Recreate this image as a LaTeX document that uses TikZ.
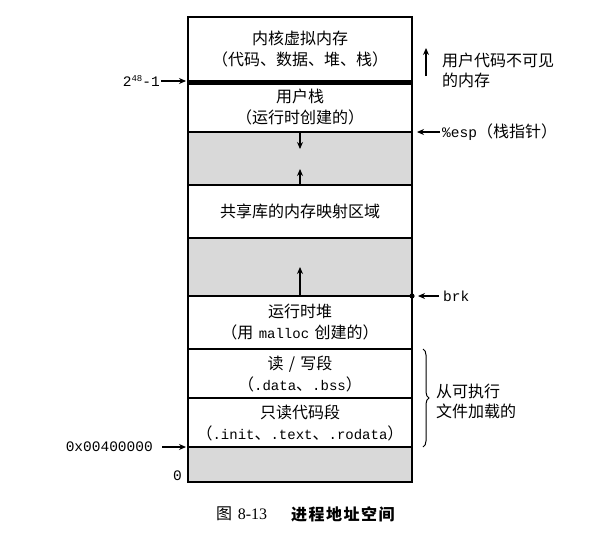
\documentclass[tikz,border=0pt]{standalone}
\usepackage{fontspec}
\setmainfont{Noto Sans CJK SC}
\setmonofont{Liberation Mono}
\newfontfamily\capserif{Liberation Serif}
\newcommand\cdtxt[1]{{\fontsize{14}{18}\ttfamily #1}}
\usetikzlibrary{arrows.meta,decorations.pathreplacing}
\begin{document}
\begin{tikzpicture}[x=1pt,y=-1pt,
  seg/.style={draw, line width=1.4pt, minimum width=224pt, text width=222pt, inner sep=0pt, outer sep=0pt, align=center,
    font=\fontsize{16}{21}\selectfont, anchor=north},
  grayseg/.style={seg, fill=black!15},
  lab/.style={font=\fontsize{16}{20}\selectfont, inner sep=0pt},
  code/.style={font=\fontsize{14.5}{18}\ttfamily, inner sep=0pt},
  arr/.style={-{Stealth[length=7pt,width=6pt]}, line width=1.1pt}]
\useasboundingbox (0,0) rectangle (597,549);
% segments
\node[seg, minimum height=65pt] (kern) at (300,17) {内核虚拟内存\\（代码、数据、堆、栈）};
\node[seg, minimum height=50pt] (ustack) at (kern.south) {用户栈\\（运行时创建的）};
\node[grayseg, minimum height=53pt] (gap1) at (ustack.south) {};
\node[seg, minimum height=53pt] (shared) at (gap1.south) {共享库的内存映射区域};
\node[grayseg, minimum height=58pt] (gap2) at (shared.south) {};
\node[seg, minimum height=53pt] (heap) at (gap2.south) {运行时堆\\（用 \cdtxt{malloc} 创建的）};
\node[seg, minimum height=49pt] (rw) at (heap.south) {读 / 写段\\（\cdtxt{.data}、\cdtxt{.bss}）};
\node[seg, minimum height=49pt] (ro) at (rw.south) {只读代码段\\（\cdtxt{.init}、\cdtxt{.text}、\cdtxt{.rodata}）};
\node[grayseg, minimum height=35pt] (gap3) at (ro.south) {};
\draw[line width=5pt] (kern.south west) -- (kern.south east);
% growth arrows
\coordinate (d1) at (300,149);
\coordinate (u1) at (300,169);
\coordinate (u2) at (300,267);
\draw[arr] (ustack.south) -- (d1);
\draw[arr] (shared.north) -- (u1);
\draw[arr] (heap.north) -- (u2);
% left labels
\node[code, anchor=east] (l48) at (160,81) {2\raisebox{0.55ex}{\fontsize{9}{9}\selectfont 48}-1};
\draw[arr, shorten <=1pt, shorten >=2pt] (l48.east) -- (l48.east -| kern.west);
\node[code, anchor=east] (l04) at (153,447) {0x00400000};
\draw[arr, shorten <=9pt, shorten >=2pt] (l04.east) -- (l04.east -| ro.west);
\node[code, anchor=east] (l0) at (182,476) {0};
% right labels
\coordinate (ua0) at (426,76);
\coordinate (ua1) at (426,48);
\draw[arr] (ua0) -- (ua1);
\node[lab, anchor=west, align=left] (inv) at (442,70) {用户代码不可见\\的内存};
\node[lab, anchor=west] (esp) at (442,132) {\fontsize{14.5}{18}\ttfamily\%esp\normalfont\fontsize{16}{20}\selectfont（栈指针）};
\draw[arr, shorten <=2pt, shorten >=5pt] (esp.west) -- (esp.west -| ustack.east);
\node[code, anchor=west] (brk) at (443,296) {brk};
\fill (heap.north east) circle (2.6pt);
\draw[arr, shorten <=4pt, shorten >=6pt] (brk.west) -- (heap.north east);
\coordinate (b0) at (423,349);
\coordinate (b1) at (423,447);
\draw[line width=1pt, decorate, decoration={brace, amplitude=6pt}] (b0) -- (b1);
\node[lab, anchor=west, align=left] (ld) at (436,401) {从可执行\\文件加载的};
% caption
\node[inner sep=0pt, anchor=west, font=\fontsize{16}{18}\selectfont] (cap1) at (216,514)
  {图\hspace{0.35em}{\capserif 8-13}};
\node[inner sep=0pt, anchor=west, font=\fontsize{16}{18}\selectfont\bfseries] (cap2) at (291,514)
  {进\kern1.5pt 程\kern1.5pt 地\kern1.5pt 址\kern1.5pt 空\kern1.5pt 间};
\end{tikzpicture}
\end{document}
